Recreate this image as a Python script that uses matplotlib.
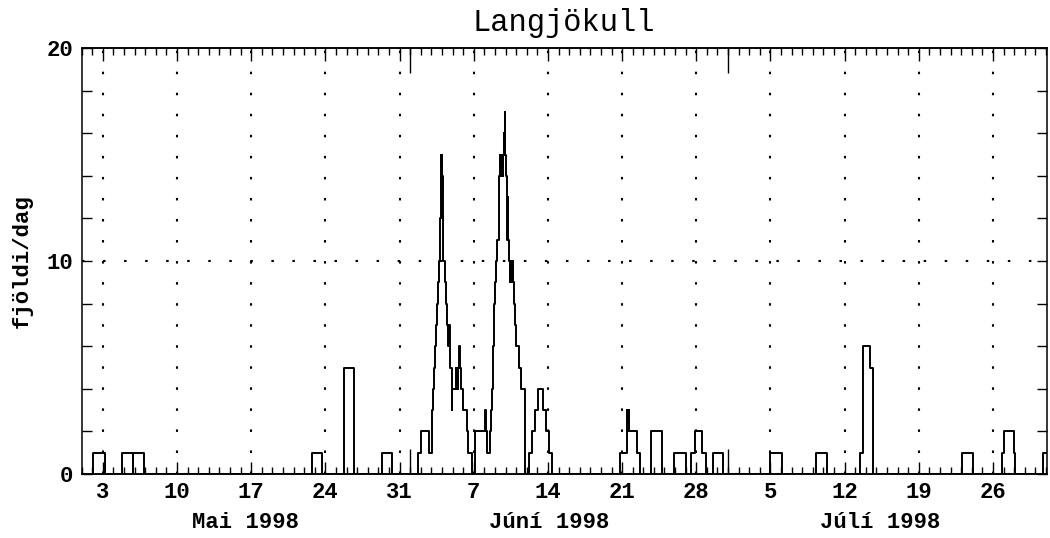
import numpy as np
import matplotlib
matplotlib.use("Agg")
import matplotlib.pyplot as plt
from matplotlib.ticker import MultipleLocator, FixedLocator, FixedFormatter
import matplotlib.transforms as mtransforms

# ---------------- data ----------------
title = "Langjökull"
ylabel = "fjöldi/dag"
# time in days since 1 May 1998 00:00 (step changes, value holds until next time)
t_days = [0.0, 1.1, 2.2, 3.77, 4.8, 4.84, 5.87, 21.75, 22.72, 24.72, 25.72, 28.3, 29.28,
          31.77, 31.99, 32.8, 33.03, 33.1, 33.18, 33.26, 33.34, 33.42, 33.5, 33.62, 33.74,
          33.8, 33.87, 33.92, 33.96, 34.0, 34.04, 34.08, 34.14, 34.26, 34.38, 34.5, 34.58,
          34.62, 34.66, 34.7, 34.74, 34.8, 34.9, 34.96, 35.3, 35.36, 35.42, 35.48, 35.54,
          35.64, 35.68, 35.76, 36.02, 36.33, 36.5, 36.85, 37.15, 38.1, 38.16, 38.22, 38.53,
          38.6, 38.69, 38.78, 38.9, 39.0, 39.08, 39.16, 39.42, 39.47, 39.52, 39.57, 39.62,
          39.67, 39.72, 39.77, 39.83, 39.88, 39.93, 39.97, 40.02, 40.1, 40.16, 40.2, 40.26,
          40.33, 40.38, 40.44, 40.5, 40.56, 40.62, 40.68, 40.74, 40.82, 40.92, 41.02, 41.25,
          41.5, 41.85, 42.24, 42.5, 42.78, 43.09, 43.56, 43.8, 44.1, 44.35, 50.8, 51.43,
          51.46, 51.5, 51.53, 51.58, 51.62, 51.67, 52.37, 52.7, 53.7, 54.8, 55.9, 57.0,
          57.5, 57.9, 58.5, 58.95, 59.55, 60.55, 64.95, 66.05, 69.3, 70.3, 73.45, 73.76,
          74.4, 74.7, 83.1, 84.1, 86.9, 87.05, 87.95, 88.1, 90.7, 91.1]
counts = [0, 1, 0, 1, 0, 1, 0, 1, 0, 5, 0, 1, 0,
          1, 2, 1, 2, 3, 4, 5, 6, 7, 8, 9, 10,
          12, 15, 13, 15, 12, 14, 12, 10, 9, 8, 7, 6,
          7, 6, 7, 6, 5, 3, 4, 5, 4, 5, 4, 5,
          6, 5, 4, 3, 2, 1, 0, 2, 3, 2, 1, 2,
          3, 4, 6, 8, 9, 10, 11, 14, 15, 14, 15, 14,
          15, 14, 15, 16, 15, 17, 15, 14, 13, 11, 13, 11,
          10, 9, 10, 9, 10, 9, 10, 9, 8, 7, 6, 5,
          4, 0, 1, 2, 3, 4, 3, 2, 1, 0, 1, 2,
          3, 2, 3, 2, 3, 2, 1, 0, 2, 0, 1, 0,
          1, 2, 1, 0, 1, 0, 1, 0, 1, 0, 1, 6,
          5, 0, 1, 0, 1, 2, 1, 0, 1, 1]
day_tick_labels = ['3', '10', '17', '24', '31', '7', '14', '21', '28', '5', '12', '19', '26']
month_labels = ['Mai 1998', 'Júní 1998', 'Júlí 1998']
month_starts = [31, 61]          # 1 June, 1 July (days since 1 May)
y_ticklabels = ['0', '10', '20']

# ---------------- figure ----------------
FONT = 'Liberation Mono'
plt.rcParams['font.family'] = [FONT, 'DejaVu Sans']
plt.rcParams['font.weight'] = 'bold'

W, H = 1050, 538
fig = plt.figure(figsize=(W / 100, H / 100), dpi=100)
L, R, T, B = 81.7, 1047.0, 48.0, 474.0
ax = fig.add_axes([L / W, 1 - B / H, (R - L) / W, (B - T) / H])

ax.step(t_days, counts, where='post', color='black', lw=1.4)

ax.set_xlim(0, 91.1)
ax.set_ylim(0, 20)

for s in ax.spines.values():
    s.set_linewidth(1.1)

# x ticks: weekly major (Sundays), daily minor
week_pos = np.arange(2, 2 + 7 * len(day_tick_labels), 7)
ax.xaxis.set_major_locator(FixedLocator(week_pos))
ax.xaxis.set_major_formatter(FixedFormatter(day_tick_labels))
ax.xaxis.set_minor_locator(MultipleLocator(1))
ax.tick_params(axis='x', which='major', direction='in', length=9, width=1.0,
               top=True, bottom=True, labelsize=16, pad=6)
ax.tick_params(axis='x', which='minor', direction='in', length=5, width=1.0,
               top=True, bottom=True)

# y ticks
ax.yaxis.set_major_locator(FixedLocator([0, 10, 20]))
ax.yaxis.set_major_formatter(FixedFormatter(y_ticklabels))
ax.yaxis.set_minor_locator(MultipleLocator(2))
ax.tick_params(axis='y', which='both', direction='in', length=7, width=1.0,
               left=True, right=True, labelsize=16, pad=6)

# month boundary ticks (longer)
for loc in ('top', 'bottom'):
    sec = ax.secondary_xaxis(loc)
    sec.set_xticks(month_starts)
    sec.tick_params(direction='in', length=18, width=1.0,
                    labelbottom=False, labeltop=False)
    for s in sec.spines.values():
        s.set_linewidth(1.1)

# dotted grid
dots = (0, (1.2, 8.9))
ax.grid(axis='x', which='major', color='black', lw=1.5, linestyle=dots)
ax.grid(axis='y', which='major', color='black', lw=1.5, linestyle=dots)

# month labels
trans = mtransforms.blended_transform_factory(ax.transData, ax.transAxes)
for lab, pos in zip(month_labels, [15.5, 44.1, 75.4]):
    ax.text(pos, -48 / (B - T), lab, transform=trans, ha='center', va='center',
            fontsize=16)

fig.text(564 / W, 1 - 23 / H, title, ha='center', va='center', fontsize=22,
         fontweight='normal')
fig.text(22 / W, 1 - 261 / H, ylabel, ha='center', va='center', rotation=90,
         fontsize=16)

fig.savefig('out.png', dpi=100)
